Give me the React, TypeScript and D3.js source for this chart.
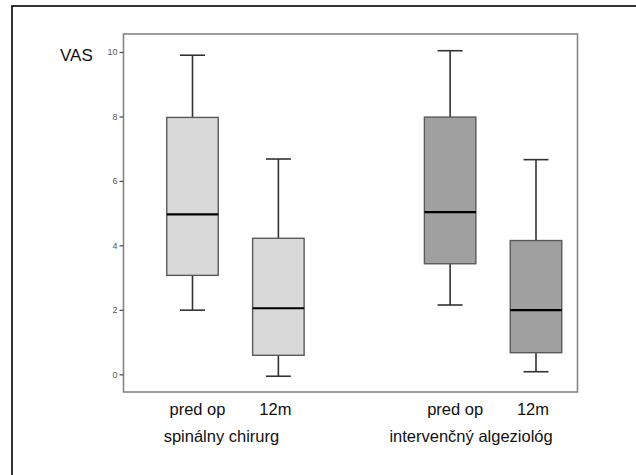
import React, { useEffect, useRef } from "react";
import * as d3 from "d3";

// categories (slot "gap" separates the two groups)
const slots = ["s-pred", "s-12m", "gap", "i-pred", "i-12m"];
const timeLabels = ["pred op", "12m", "", "pred op", "12m"];
const groupLabels = ["spinálny chirurg", "intervenčný algeziológ"];
const groupSlots = [["s-pred", "s-12m"], ["i-pred", "i-12m"]];

// box statistics per category
const boxKeys = ["s-pred", "s-12m", "i-pred", "i-12m"];
const whiskerLow = [1.99, -0.06, 2.15, 0.08];
const q1 = [3.07, 0.59, 3.43, 0.67];
const median = [4.96, 2.05, 5.03, 1.99];
const q3 = [7.97, 4.22, 7.98, 4.15];
const whiskerHigh = [9.9, 6.68, 10.04, 6.66];
const boxFill = ["#d9d9d9", "#d9d9d9", "#a0a0a0", "#a0a0a0"];

const yTicks = [0, 2, 4, 6, 8, 10];

const App = () => {
  const svgRef = useRef<SVGSVGElement>(null);

  useEffect(() => {
    const w = 636;
    const h = 475;
    const left = 123.5;
    const right = 577.5;
    const top = 34;
    const bottom = 392;

    const svg = d3.select(svgRef.current).attr("width", w).attr("height", h);
    svg.selectAll("*").remove();

    // outer frame (cut off at right / bottom)
    svg
      .append("rect")
      .attr("x", 12)
      .attr("y", 6)
      .attr("width", 700)
      .attr("height", 600)
      .attr("fill", "none")
      .attr("stroke", "#000")
      .attr("stroke-width", 1.6);

    const y = d3.scaleLinear().domain([0, 10]).range([374.3, 52]);
    const x = d3.scalePoint<string>().domain(slots).range([192.5, 536]);
    const boxW = 51.5;
    const capW = 25;

    // plot frame
    svg
      .append("rect")
      .attr("x", left)
      .attr("y", top)
      .attr("width", right - left)
      .attr("height", bottom - top)
      .attr("fill", "#fff")
      .attr("stroke", "#858585")
      .attr("stroke-width", 1.6);

    // y axis
    const yAxis = svg
      .append("g")
      .attr("transform", `translate(${left},0)`)
      .call(d3.axisLeft(y).tickValues(yTicks).tickSize(4).tickPadding(2));
    yAxis.select(".domain").remove();
    yAxis.selectAll("line").attr("stroke", "#555").attr("stroke-width", 1.3);
    yAxis
      .selectAll("text")
      .attr("fill", "#555")
      .attr("font-size", 9)
      .attr("font-family", "Liberation Sans, Arial, sans-serif");

    svg
      .append("text")
      .attr("x", 60)
      .attr("y", 61)
      .attr("font-size", 17)
      .attr("font-family", "Liberation Sans, Arial, sans-serif")
      .attr("fill", "#111")
      .text("VAS");

    const data = boxKeys.map((k, i) => ({
      k,
      lo: whiskerLow[i],
      q1: q1[i],
      med: median[i],
      q3: q3[i],
      hi: whiskerHigh[i],
      fill: boxFill[i],
    }));

    const g = svg
      .selectAll(".box")
      .data(data)
      .join("g")
      .attr("class", "box")
      .attr("transform", (d) => `translate(${x(d.k)},0)`);

    g.append("line")
      .attr("x1", 0)
      .attr("x2", 0)
      .attr("y1", (d) => y(d.hi))
      .attr("y2", (d) => y(d.lo))
      .attr("stroke", "#333")
      .attr("stroke-width", 1.6);
    g.append("line")
      .attr("x1", -capW / 2)
      .attr("x2", capW / 2)
      .attr("y1", (d) => y(d.hi))
      .attr("y2", (d) => y(d.hi))
      .attr("stroke", "#333")
      .attr("stroke-width", 1.6);
    g.append("line")
      .attr("x1", -capW / 2)
      .attr("x2", capW / 2)
      .attr("y1", (d) => y(d.lo))
      .attr("y2", (d) => y(d.lo))
      .attr("stroke", "#333")
      .attr("stroke-width", 1.6);
    g.append("rect")
      .attr("x", -boxW / 2)
      .attr("width", boxW)
      .attr("y", (d) => y(d.q3))
      .attr("height", (d) => y(d.q1) - y(d.q3))
      .attr("fill", (d) => d.fill)
      .attr("stroke", "#5a5a5a")
      .attr("stroke-width", 1.4);
    g.append("line")
      .attr("x1", -boxW / 2)
      .attr("x2", boxW / 2)
      .attr("y1", (d) => y(d.med))
      .attr("y2", (d) => y(d.med))
      .attr("stroke", "#000")
      .attr("stroke-width", 2.2);

    // x labels
    svg
      .selectAll(".tlab")
      .data(slots.map((s, i) => ({ s, t: timeLabels[i] })).filter((d) => d.t))
      .join("text")
      .attr("class", "tlab")
      .attr("x", (d) => x(d.s)! + (d.t === "pred op" ? 5 : -3))
      .attr("y", 415)
      .attr("text-anchor", "middle")
      .attr("font-size", 16.5)
      .attr("font-family", "Liberation Sans, Arial, sans-serif")
      .attr("fill", "#111")
      .text((d) => d.t);

    svg
      .selectAll(".glab")
      .data(groupLabels)
      .join("text")
      .attr("class", "glab")
      .attr("x", (d, i) => (x(groupSlots[i][0])! + x(groupSlots[i][1])!) / 2 - (i === 0 ? 14 : 22))
      .attr("y", 442)
      .attr("text-anchor", "middle")
      .attr("font-size", 16.5)
      .attr("font-family", "Liberation Sans, Arial, sans-serif")
      .attr("fill", "#111")
      .text((d) => d);
  }, []);

  return (
    <div style={{ position: "absolute", left: 0, top: 0 }}>
      <svg ref={svgRef}></svg>
    </div>
  );
};

export default App;
